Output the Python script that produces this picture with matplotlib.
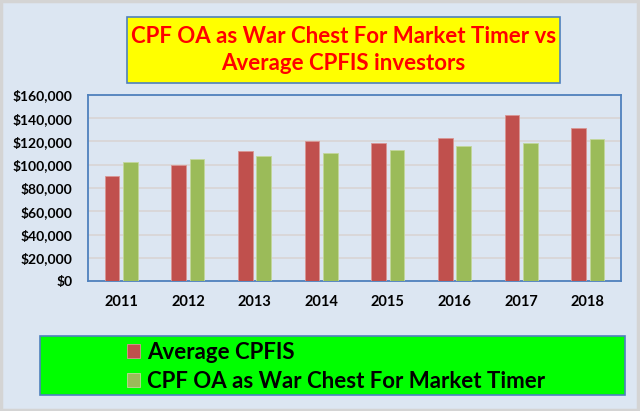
import matplotlib.pyplot as plt
from matplotlib.patches import Rectangle
from matplotlib.ticker import FuncFormatter, MultipleLocator
import numpy as np

# Data
years = ['2011', '2012', '2013', '2014', '2015', '2016', '2017', '2018']
avg_cpfis = [90000, 100000, 111700, 120000, 118300, 123200, 142500, 131300]
war_chest = [102200, 105100, 107400, 110300, 113100, 116000, 118900, 121800]

title = 'CPF OA as War Chest For Market Timer vs\nAverage CPFIS investors'
label_red = 'Average CPFIS'
label_green = 'CPF OA as War Chest For Market Timer'

bg = '#DCE6F2'
red = '#C0504D'
green = '#9BBB59'
blue = '#4F81BD'

plt.rcParams['font.family'] = ['Lato', 'DejaVu Sans']

W, H = 640, 411
fig = plt.figure(figsize=(W / 100, H / 100), dpi=100)
fig.patch.set_facecolor(bg)

# thin grey frame round the whole picture
fig.patches.append(Rectangle((1 / W, 1 / H), (W - 3) / W, (H - 2) / H,
                             transform=fig.transFigure, facecolor='none',
                             edgecolor='#D4D4D4', linewidth=2.5, zorder=5))

ax = fig.add_axes([88 / W, 1 - 281 / H, 533 / W, 186 / H])
ax.set_facecolor(bg)

x = np.arange(len(years))
w = 0.22
off = 0.138
b1 = ax.bar(x - off, avg_cpfis, w, color=red, edgecolor='#D99694', linewidth=0.6,
            label=label_red, zorder=3)
b2 = ax.bar(x + off, war_chest, w, color=green, edgecolor='#C3D69B', linewidth=0.6,
            label=label_green, zorder=3)

ax.set_xlim(-0.5, len(years) - 0.5)
ax.set_ylim(0, 160000)
ax.yaxis.set_major_locator(MultipleLocator(20000))
ax.yaxis.set_major_formatter(FuncFormatter(lambda v, p: '${:,.0f}'.format(v)))
ax.set_xticks(x)
ax.set_xticklabels(years)
ax.grid(axis='y', color='#D9D5D5', linewidth=1.2, zorder=0)
ax.tick_params(length=0, labelsize=10)
ax.tick_params(axis='y', pad=11)
ax.tick_params(axis='x', labelsize=10.5, pad=10)
for t in ax.get_xticklabels() + ax.get_yticklabels():
    t.set_fontweight('bold')
for s in ax.spines.values():
    s.set_color(blue)
    s.set_linewidth(1.3)

# title box
fig.patches.append(Rectangle((127 / W, 1 - 83 / H), 433 / W, 66 / H,
                             transform=fig.transFigure, facecolor='#FFFF00',
                             edgecolor=blue, linewidth=1.2, zorder=1))
fig.text(343.5 / W, 1 - 50 / H, title, ha='center', va='center', color='#FF0000',
         fontsize=16, fontweight='bold', linespacing=1.3, zorder=2)

# legend box
fig.patches.append(Rectangle((40 / W, 1 - 395 / H), 585 / W, 59 / H,
                             transform=fig.transFigure, facecolor='#00FF00',
                             edgecolor=blue, linewidth=1.2, zorder=1))
leg = fig.legend(handles=[b1, b2], loc='upper left',
                 bbox_to_anchor=(127 / W, 1 - 342 / H), frameon=False,
                 prop={'weight': 'bold', 'size': 16}, handlelength=0.6,
                 handleheight=0.6, handletextpad=0.3, labelspacing=0.35,
                 borderaxespad=0, borderpad=0)
leg.set_zorder(2)

fig.savefig('out.png', dpi=100, facecolor=fig.get_facecolor())
